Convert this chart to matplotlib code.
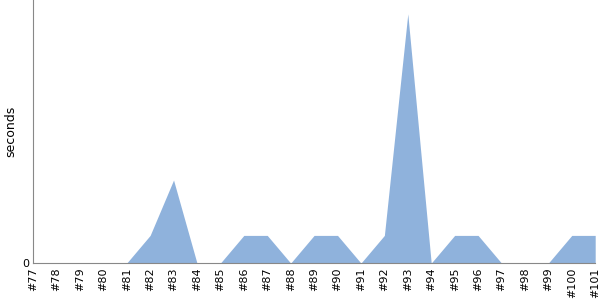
import matplotlib
matplotlib.use('Agg')
import matplotlib.pyplot as plt
import numpy as np

# Data
builds = ['#%d' % n for n in range(77, 102)]
seconds = [0, 0, 0, 0, 0, 1, 3, 0, 0, 1, 1, 0, 1, 1, 0, 1, 9, 0, 1, 1, 0, 0, 0, 1, 1]

x = np.arange(len(builds))

fig = plt.figure(figsize=(6, 3), dpi=100)
ax = fig.add_axes([0.055, 0.123, 0.937, 0.877])
ax.fill_between(x, seconds, 0, color='#8fb2dc', linewidth=0)

ax.set_xlim(0, len(builds) - 1)
ax.set_ylim(0, 9.5)
ax.set_xticks(x)
ax.set_xticklabels(builds, rotation=90, fontsize=8)
ax.set_yticks([0])
ax.tick_params(length=0, pad=3, labelsize=8)
ax.set_ylabel('seconds', fontsize=9)
ax.yaxis.set_label_coords(-0.028, 0.5)

for side in ['top', 'right']:
    ax.spines[side].set_visible(False)
for side in ['left', 'bottom']:
    ax.spines[side].set_color('#888888')

plt.savefig('out.png', dpi=100)
